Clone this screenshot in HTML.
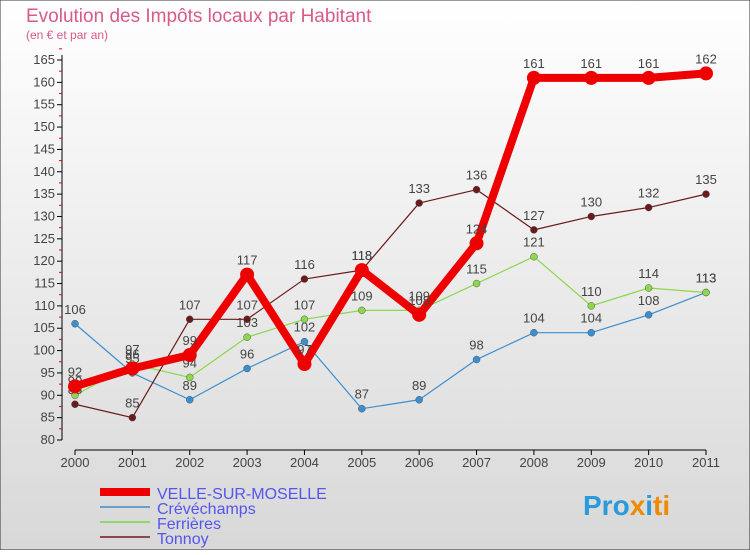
<!DOCTYPE html>
<html><head><meta charset="utf-8">
<style>
body{margin:0;width:750px;height:550px;overflow:hidden;font-family:"Liberation Sans",sans-serif;}
svg text{font-family:"Liberation Sans",sans-serif;}
</style></head><body>
<svg width="750" height="550" xmlns="http://www.w3.org/2000/svg" id="chart">
<defs>
<linearGradient id="bg" x1="0" y1="0" x2="0" y2="1">
<stop offset="0" stop-color="#ffffff"/><stop offset="1" stop-color="#d8d8d8"/>
</linearGradient>
</defs>
<rect x="0" y="0" width="750" height="550" fill="url(#bg)" stroke="#333"/>
<text x="26" y="22" font-size="19" fill="#d85a88">Evolution des Impôts locaux par Habitant</text>
<text x="26" y="39" font-size="12" fill="#d85a88">(en € et par an)</text>
<g id="axes"></g>
<g id="series"></g>
<g id="legend">
<line x1="100" y1="492" x2="150" y2="492" stroke="#ee0000" stroke-width="8"/>
<text x="157" y="499" font-size="16" fill="#5555ee">VELLE-SUR-MOSELLE</text>
<line x1="100" y1="507" x2="150" y2="507" stroke="#6a9fcc" stroke-width="2"/>
<text x="157" y="514" font-size="16" fill="#5555ee">Crévéchamps</text>
<line x1="100" y1="522" x2="150" y2="522" stroke="#8cd86a" stroke-width="2"/>
<text x="157" y="529" font-size="16" fill="#5555ee">Ferrières</text>
<line x1="100" y1="537" x2="150" y2="537" stroke="#8a4a4a" stroke-width="2"/>
<text x="157" y="544" font-size="16" fill="#5555ee">Tonnoy</text>
</g>
<text x="583" y="515" font-size="28" font-weight="bold" fill="#2a9ad8">Pro<tspan fill="#f08a00">x</tspan><tspan fill="#2a9ad8">i</tspan><tspan fill="#f08a00">ti</tspan></text>
</svg>
<script>
const years=["2000","2001","2002","2003","2004","2005","2006","2007","2008","2009","2010","2011"];
const yTicks=[80,85,90,95,100,105,110,115,120,125,130,135,140,145,150,155,160,165];
const velle=[92,96,99,117,97,118,108,124,161,161,161,162];
const creve=[106,95,89,96,102,87,89,98,104,104,108,113];
const ferr=[90,97,94,103,107,109,109,115,121,110,114,113];
const tonnoy=[88,85,107,107,116,118,133,136,127,130,132,135];
const NS="http://www.w3.org/2000/svg";
const X=i=>75+i*(706-75)/11;
const Y=v=>440-(v-80)*(380/85);
function mk(tag,attrs,parent){const e=document.createElementNS(NS,tag);for(const k in attrs)e.setAttribute(k,attrs[k]);parent.appendChild(e);return e;}
const ax=document.getElementById('axes');
let l=mk('line',{x1:62,y1:55,x2:62,y2:440,stroke:'#000'},ax);


l=mk('line',{x1:75,y1:450,x2:706,y2:450,stroke:'#000'},ax);


yTicks.forEach(v=>{
 const t=mk('line',{x1:57,y1:Y(v),x2:62,y2:Y(v),stroke:'#000'},ax);
 
 
 const m=mk('line',{x1:59,y1:Y(v+2.5),x2:62,y2:Y(v+2.5),stroke:'#e00'},ax);
 
 
 const tx=mk('text',{x:55,y:Y(v)+4,'font-size':13,fill:'#444','text-anchor':'end'},ax);
 tx.textContent=v;
 
 
});
years.forEach((y,i)=>{
 const t=mk('line',{x1:X(i),y1:450,x2:X(i),y2:455,stroke:'#000'},ax);
 
 
 const tx=mk('text',{x:X(i),y:467,'font-size':13,fill:'#444','text-anchor':'middle'},ax);
 tx.textContent=y;
 
 
});
const sg=document.getElementById('series');
function series(vals,color,w,r,name){
 const g=mk('g',{},sg);
 
 
 const p=mk('polyline',{points:vals.map((v,i)=>X(i)+','+Y(v)).join(' '),fill:'none',stroke:color,'stroke-width':w,'stroke-linejoin':'round'},g);
 
 
 vals.forEach((v,i)=>{
  const c=mk('circle',{cx:X(i),cy:Y(v),r:r,fill:color,stroke:'#555','stroke-width':w>3?0:0.5},g);
  
  
  const t=mk('text',{x:X(i),y:Y(v)-10,'font-size':13,fill:'#444','text-anchor':'middle'},g);
  t.textContent=v;
  
  
 });
}
series(creve,'#3a8fd0',1.2,3.5,'crevechamps');
series(ferr,'#8cd84a',1.2,3.5,'ferrieres');
series(tonnoy,'#6a1a1a',1.2,3.5,'tonnoy');
series(velle,'#ee0000',8,7,'velle-sur-moselle');
</script>
</body></html>
